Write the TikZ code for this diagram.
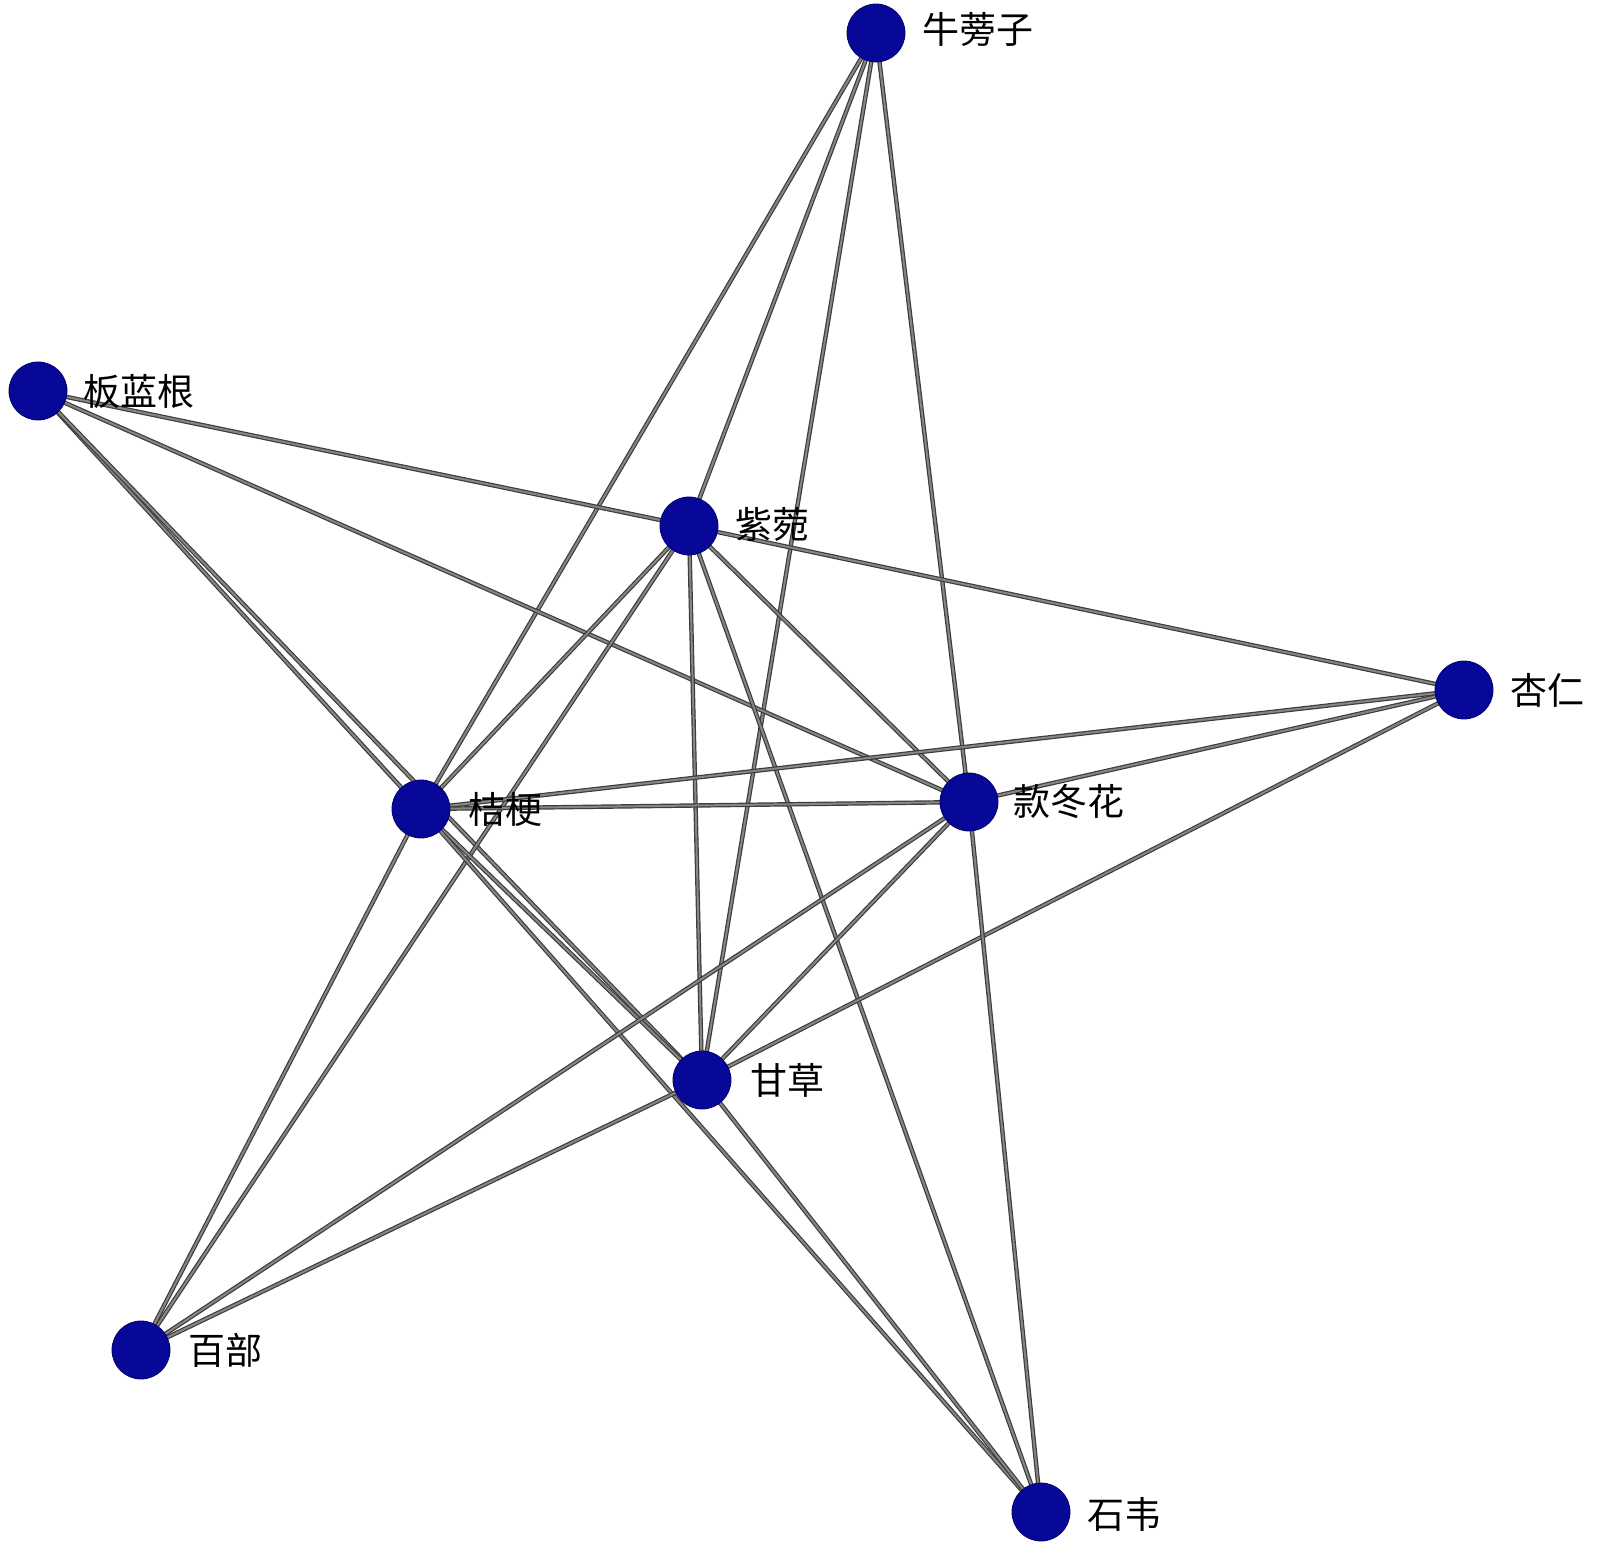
\documentclass[tikz,border=0pt]{standalone}
\usepackage{fontspec}
\newfontfamily\cjk{Noto Sans CJK SC}
\usetikzlibrary{backgrounds}
\definecolor{nodeblue}{RGB}{8,8,152}
\definecolor{nodeedge}{RGB}{0,0,110}
\definecolor{edgeout}{RGB}{60,60,60}
\definecolor{edgein}{RGB}{135,135,130}
\tikzset{
  herb/.style={circle, fill=nodeblue, draw=nodeedge, line width=0.4pt, minimum size=29pt, inner sep=0pt},
  herblabel/.style={anchor=west, inner sep=0pt, font=\cjk\fontsize{18.5pt}{20pt}\selectfont, text=black},
  link/.style={draw=edgeout, line width=0.6pt, double=edgein, double distance=1.0pt}
}
\begin{document}
\begin{tikzpicture}[x=0.5pt,y=-0.5pt]
\useasboundingbox (0,0) rectangle (1600,1545);
% nodes
\node[herb] (nbz) at (876,33) {};
\node[herb] (blg) at (38,391) {};
\node[herb] (zw)  at (689,526) {};
\node[herb] (xr)  at (1464,690) {};
\node[herb] (jg)  at (421,809) {};
\node[herb] (kdh) at (969,802) {};
\node[herb] (gc)  at (702,1080) {};
\node[herb] (bb)  at (141,1350) {};
\node[herb] (sw)  at (1041,1512) {};
% labels
\node[herblabel] (lnbz) at ([xshift=23pt,yshift=2pt]nbz.center) {牛蒡子};
\node[herblabel] (lblg) at ([xshift=22.5pt,yshift=0pt]blg.center) {板蓝根};
\node[herblabel] (lzw)  at ([xshift=23pt,yshift=1pt]zw.center) {紫菀};
\node[herblabel] (lxr)  at ([xshift=23pt,yshift=0pt]xr.center) {杏仁};
\node[herblabel] (ljg)  at ([xshift=23.5pt,yshift=0pt]jg.center) {桔梗};
\node[herblabel] (lkdh) at ([xshift=22pt,yshift=0pt]kdh.center) {款冬花};
\node[herblabel] (lgc)  at ([xshift=24pt,yshift=0pt]gc.center) {甘草};
\node[herblabel] (lbb)  at ([xshift=23.5pt,yshift=0pt]bb.center) {百部};
\node[herblabel] (lsw)  at ([xshift=23pt,yshift=-1pt]sw.center) {石韦};
% edges
\begin{pgfonlayer}{background}
\fill[white] (0,0) rectangle (1600,1545);
\foreach \a/\b in {nbz/jg, nbz/zw, nbz/gc, nbz/kdh,
  blg/zw, blg/kdh, blg/jg, blg/gc,
  zw/xr, zw/jg, zw/bb, zw/gc, zw/kdh, zw/sw,
  xr/jg, xr/kdh, xr/gc,
  jg/kdh, jg/gc, jg/sw, jg/bb,
  kdh/gc, kdh/bb, kdh/sw,
  gc/sw, gc/bb}
  \draw[link] (\a.center) -- (\b.center);
\end{pgfonlayer}
\end{tikzpicture}
\end{document}
